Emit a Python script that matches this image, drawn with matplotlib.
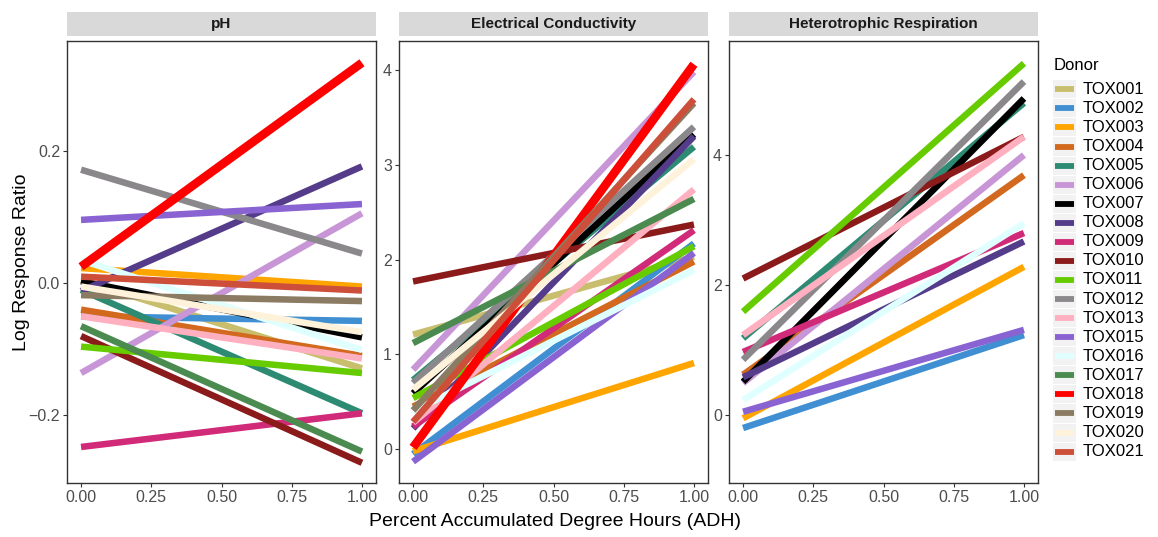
import matplotlib
matplotlib.use("Agg")
import matplotlib.pyplot as plt
from matplotlib.patches import Rectangle

plt.rcParams['font.family'] = ['Liberation Sans', 'DejaVu Sans']

donors = ["TOX001", "TOX002", "TOX003", "TOX004", "TOX005", "TOX006", "TOX007",
          "TOX008", "TOX009", "TOX010", "TOX011", "TOX012", "TOX013", "TOX015",
          "TOX016", "TOX017", "TOX018", "TOX019", "TOX020", "TOX021"]
colors = ["#C8BE6E", "#3F8FD2", "#FFA500", "#D2691E", "#2E8B73", "#C896D6", "#000000",
          "#553C8B", "#D02A78", "#8B1A1A", "#66CC00", "#8A888A", "#FFB0C0", "#8A63D2",
          "#E0FFFF", "#4B8B50", "#FF0000", "#8B7B62", "#FFF2DA", "#CD4F39"]

x_adh = [0.0, 1.0]

# log response ratio at start (0) and end (1) of ADH, None = donor not measured
ph_start = [0.005, -0.05, 0.023, -0.040, -0.010, -0.136, 0.003, -0.012, -0.248, -0.080,
            -0.096, 0.172, -0.050, 0.096, 0.035, -0.065, 0.025, -0.018, -0.005, 0.010]
ph_end = [-0.129, -0.057, -0.005, -0.110, -0.197, 0.106, -0.082, 0.177, -0.197, -0.272,
          -0.136, 0.045, -0.114, 0.120, -0.101, -0.255, 0.334, -0.027, -0.074, -0.011]

ec_start = [1.21, -0.05, -0.02, 0.45, 0.73, 0.84, 0.59, 0.22, 0.24, 1.77,
            0.54, 0.70, 0.28, -0.13, 0.40, 1.12, 0.02, 0.41, 0.63, 0.29]
ec_end = [2.03, 2.17, 0.91, 1.98, 3.19, 3.98, 3.32, 3.30, 2.31, 2.37,
          2.14, 3.40, 2.74, 2.07, 1.89, 2.64, 4.06, 3.65, 3.06, 3.69]

hr_start = [None, -0.20, -0.05, 0.62, 1.18, 0.49, 0.51, 0.58, 0.97, 2.10,
            1.59, 0.85, 1.23, 0.05, 0.23, None, None, None, None, None]
hr_end = [None, 1.23, 2.28, 3.69, 4.80, 4.00, 4.87, 2.67, 2.80, 4.28,
          5.41, 5.13, 4.28, 1.31, 2.95, None, None, None, None, None]

panels = [
    ("pH", ph_start, ph_end, (-0.3026, 0.367), [-0.2, 0.0, 0.2], ["\u22120.2", "0.0", "0.2"]),
    ("Electrical Conductivity", ec_start, ec_end, (-0.355, 4.305), [0, 1, 2, 3, 4], ["0", "1", "2", "3", "4"]),
    ("Heterotrophic Respiration", hr_start, hr_end, (-1.046, 5.754), [0, 2, 4], ["0", "2", "4"]),
]

W, H = 1158, 537
fig = plt.figure(figsize=(W / 100, H / 100), dpi=100)

lefts = [67, 399, 729]
pw = 309
top, bottom = 41, 483

for (title, y0, y1, ylim, yticks, ylabels), lx in zip(panels, lefts):
    ax = fig.add_axes([lx / W, 1 - bottom / H, pw / W, (bottom - top) / H])
    for d, c, a, b in zip(donors, colors, y0, y1):
        if a is None:
            continue
        lw = 6.2 if d == "TOX018" else 4.7
        ax.plot(x_adh, [a, b], color=c, lw=lw, solid_capstyle="butt")
    ax.set_xlim(-0.05, 1.05)
    ax.set_ylim(*ylim)
    ax.set_xticks([0, 0.25, 0.5, 0.75, 1.0])
    ax.set_xticklabels(["0.00", "0.25", "0.50", "0.75", "1.00"])
    ax.set_yticks(yticks)
    ax.set_yticklabels(ylabels)
    ax.tick_params(length=3, width=0.8, color="#333333", labelcolor="#4D4D4D",
                   labelsize=11.5, pad=2)
    for s in ax.spines.values():
        s.set_color("#333333")
        s.set_linewidth(1.0)
    # facet strip
    sax = fig.add_axes([lx / W, 1 - 36 / H, pw / W, 24 / H])
    sax.set_facecolor("#D9D9D9")
    sax.set_xticks([])
    sax.set_yticks([])
    for s in sax.spines.values():
        s.set_visible(False)
    sax.text(0.5, 0.5, title, ha="center", va="center", fontsize=11,
             fontweight="bold", color="#1A1A1A", transform=sax.transAxes)

fig.text(555 / W, 1 - 522 / H, "Percent Accumulated Degree Hours (ADH)",
         ha="center", va="center", fontsize=14, color="black")
fig.text(22 / W, 1 - 262 / H, "Log Response Ratio", ha="center", va="center",
         rotation=90, fontsize=14, color="black")

# legend drawn in pixel space
lax = fig.add_axes([0, 0, 1, 1])
lax.set_xlim(0, W)
lax.set_ylim(H, 0)
lax.axis("off")
lax.text(1054, 66, "Donor", ha="left", va="center", fontsize=12, color="black")
step = 19.07
for i, (d, c) in enumerate(zip(donors, colors)):
    yc = 89.3 + i * step
    lax.add_patch(Rectangle((1053, yc - step / 2 + 0.5), 23, step - 1,
                            facecolor="#F2F2F2", edgecolor="none"))
    lax.plot([1055, 1074], [yc, yc], color=c, lw=4.2, solid_capstyle="butt")
    lax.text(1083, yc, d, ha="left", va="center", fontsize=12, color="black")

fig.savefig("out.png", dpi=100, facecolor="white")
